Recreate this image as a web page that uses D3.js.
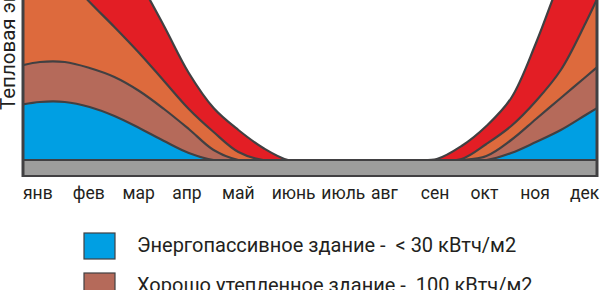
<!DOCTYPE html>
<html>
<head>
<meta charset="utf-8">
<title>Тепловая энергия по месяцам</title>
<script src="https://d3js.org/d3.v7.min.js"></script>
<style>
  body { margin: 0; background: #fff; }
  svg { display: block; }
  text { font-family: Roboto, "Open Sans", sans-serif; fill: #231f20; white-space: pre; }
</style>
</head>
<body>
<script>
var w = 602, h = 290;

// месяцы (подписи оси X)
var months = ["янв", "фев", "мар", "апр", "май", "июнь", "июль", "авг", "сен", "окт", "ноя", "дек"];

// точки отсчёта кривых, в месяцах (0 = янв)
var samplePos = [-0.5, 0, 0.5, 1, 1.5, 2, 2.5, 3, 3.5, 4, 4.5, 5, 5.5,
                 6, 6.5, 7, 7.5, 8, 8.5, 9, 9.5, 10, 10.5, 11, 11.5];

// толщина слоёв (условные единицы), снизу вверх
var passive   = [54, 58, 58, 53, 44, 32, 19, 7, 0, 0, 0, 0, 0, 0, 0, 0, 0, 0, 0, 0, 7, 18, 30, 45, 60];
var insulated = [39, 40, 40, 39, 39, 37, 32, 24, 10, 0, 0, 0, 0, 0, 0, 0, 0, 0, 0, 4, 13, 23, 32, 38, 44];
var standard  = [125, 110, 87, 66, 50, 38, 28, 20, 18, 8, 0, 0, 0, 0, 0, 0, 0, 0, 1, 12, 14, 18, 28, 54, 86];
var oldHouse  = [69, 74, 83, 92, 85, 72, 55, 36, 24, 22, 12, 0, 0, 0, 0, 0, 0, 1, 13, 18, 28, 58, 92, 103, 90];

var layerKeys = ["passive", "insulated", "standard", "oldHouse"];
var layerColors = ["#009fe3", "#b56a5a", "#dd6a3d", "#e31e25"];

var legendLabels = ["Энергопассивное здание -  < 30 кВтч/м2", "Хорошо утепленное здание -  100 кВтч/м2"];
var legendColors = ["#009fe3", "#b56a5a"];

var rows = samplePos.map(function(m, i) {
  return { m: m, passive: passive[i], insulated: insulated[i], standard: standard[i], oldHouse: oldHouse[i] };
});

var plotLeft = 23, plotRight = 597, base = 160, bandBottom = 176;

var svg = d3.select("body").append("svg")
  .attr("width", w)
  .attr("height", h);

var xScale = d3.scaleLinear().domain([-0.5, 11.5]).range([15.2, 610.4]);
var yScale = d3.scaleLinear().domain([0, 160]).range([base, 0]);

var stack = d3.stack().keys(layerKeys);
var series = stack(rows);

svg.append("defs").append("clipPath")
  .attr("id", "plot-clip")
  .append("rect")
  .attr("x", plotLeft).attr("y", -200)
  .attr("width", plotRight - plotLeft).attr("height", base + 200);

var curve = d3.curveCatmullRom.alpha(0.5);

var area = d3.area()
  .x(function(d) { return xScale(d.data.m); })
  .y0(function(d) { return yScale(d[0]); })
  .y1(function(d) { return yScale(d[1]); })
  .curve(curve);

var topLine = d3.line()
  .x(function(d) { return xScale(d.data.m); })
  .y(function(d) { return yScale(d[1]); })
  .curve(curve);

var plot = svg.append("g").attr("clip-path", "url(#plot-clip)");

// слои сверху вниз, чтобы нижние перекрывали возможные выбросы кривых
plot.selectAll("path.layer")
  .data(series.slice().reverse())
  .enter().append("path")
  .attr("class", "layer")
  .attr("d", area)
  .attr("fill", function(d) { return layerColors[d.index]; });

plot.selectAll("path.edge")
  .data(series)
  .enter().append("path")
  .attr("class", "edge")
  .attr("d", topLine)
  .attr("fill", "none")
  .attr("stroke", "#414042")
  .attr("stroke-width", 2.2);

// серая полоса основания
svg.append("rect")
  .attr("x", plotLeft)
  .attr("y", base)
  .attr("width", plotRight - plotLeft)
  .attr("height", bandBottom - base)
  .attr("fill", "#9d9d9c")
  .attr("stroke", "#414042")
  .attr("stroke-width", 2);

// боковые рамки
[plotLeft, plotRight].forEach(function(x) {
  svg.append("line")
    .attr("x1", x).attr("x2", x)
    .attr("y1", 0).attr("y2", bandBottom + 1)
    .attr("stroke", "#414042")
    .attr("stroke-width", 3);
});

// подписи месяцев
var xLabels = d3.scalePoint().domain(months).range([23, 570]);
svg.selectAll("text.month")
  .data(months)
  .enter().append("text")
  .attr("class", "month")
  .attr("x", function(d) { return xLabels(d); })
  .attr("y", 199)
  .attr("font-size", "17.5px")
  .text(function(d) { return d; });

// подпись оси Y
svg.append("text")
  .attr("transform", "translate(15,110) rotate(-90)")
  .attr("font-size", "20.5px")
  .text("Тепловая энергия");

// легенда
var legend = svg.selectAll("g.legend")
  .data(legendLabels)
  .enter().append("g")
  .attr("class", "legend")
  .attr("transform", function(d, i) { return "translate(84," + (233 + i * 40) + ")"; });

legend.append("rect")
  .attr("width", 31).attr("height", 26)
  .attr("fill", function(d, i) { return legendColors[i]; })
  .attr("stroke", "#414042")
  .attr("stroke-width", 1.2);

legend.append("text")
  .attr("x", 53)
  .attr("y", 19)
  .attr("font-size", "20px")
  .text(function(d) { return d; });
</script>
</body>
</html>
